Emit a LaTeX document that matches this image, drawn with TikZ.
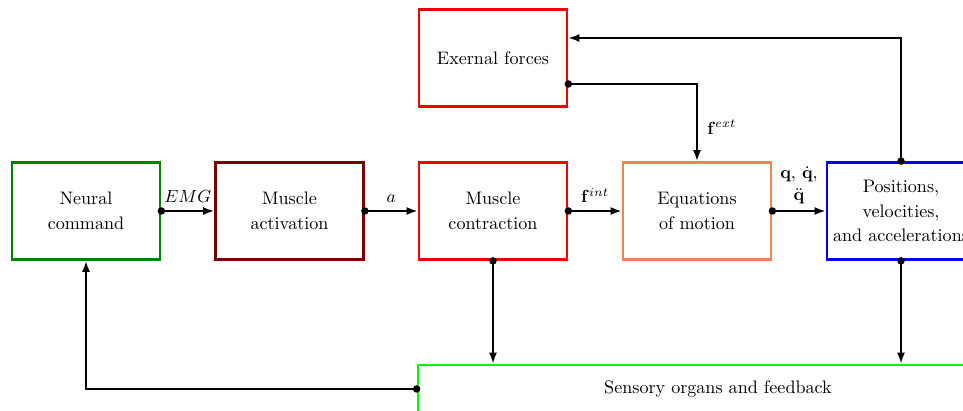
\documentclass[tikz,border=0pt]{standalone}
\usetikzlibrary{arrows.meta,calc}
\definecolor{boxgreen}{RGB}{0,128,0}
\definecolor{boxmaroon}{RGB}{120,0,0}
\definecolor{boxred}{RGB}{245,0,0}
\definecolor{boxorange}{RGB}{232,134,84}
\definecolor{boxblue}{RGB}{0,0,245}
\definecolor{boxlime}{RGB}{0,250,0}
\begin{document}
\begin{tikzpicture}[x=0.02cm,y=-0.02cm,
  font=\fontsize{10.3}{14}\selectfont,
  blockbox/.style={draw,line width=1.6pt,minimum width=2.96cm,minimum height=1.94cm,align=center,inner sep=2pt},
  conn/.style={line width=1.1pt,-{Latex[length=0.22cm,width=0.16cm]}},
  startdot/.style={circle,fill,inner sep=0pt,minimum size=0.15cm}]
\useasboundingbox (0,0) rectangle (963,411);
\node[blockbox,draw=boxgreen] (neural) at (86,211) {Neural\\command};
\node[blockbox,draw=boxmaroon] (act) at (289.5,211) {Muscle\\activation};
\node[blockbox,draw=boxred] (contr) at (493,211) {Muscle\\contraction};
\node[blockbox,draw=boxorange] (eq) at (697,211) {Equations\\of motion};
\node[blockbox,draw=boxblue] (pos) at (901,211) {Positions,\\velocities,\\and accelerations};
\node[blockbox,draw=boxred] (ext) at (493,58) {Exernal forces};
\node[draw=boxlime,line width=1.6pt,minimum width=12cm,minimum height=0.96cm] (sens) at (718,389) {Sensory organs and feedback};
% connectors
\draw[conn] (neural.east) -- node[above=1pt] {$EMG$} (act.west);
\draw[conn] (act.east) -- node[above=1pt] {$a$} (contr.west);
\draw[conn] (contr.east) -- node[above=1pt] {$\mathbf{f}^{int}$} (eq.west);
\draw[conn] (eq.east) -- node[above=0pt,align=center,font=\fontsize{10.3}{12.5}\selectfont] {$\mathbf{q}$, $\dot{\mathbf{q}}$,\\$\ddot{\mathbf{q}}$} (pos.west);
\coordinate (extout) at ([yshift=-0.52cm]ext.east);
\coordinate (extin) at ([yshift=0.4cm]ext.east);
\draw[conn] (extout) -| node[pos=0.78,right=2pt] {$\mathbf{f}^{ext}$} (eq.north);
\draw[conn] (pos.north) |- (extin);
\draw[conn] (contr.south) -- (contr.south |- sens.north);
\draw[conn] (pos.south) -- (pos.south |- sens.north);
\draw[conn] (sens.west) -| (neural.south);
% dots
\foreach \p in {neural.east,act.east,contr.east,eq.east,extout,pos.north,contr.south,pos.south,sens.west}
  \node[startdot] at (\p) {};
\end{tikzpicture}
\end{document}
